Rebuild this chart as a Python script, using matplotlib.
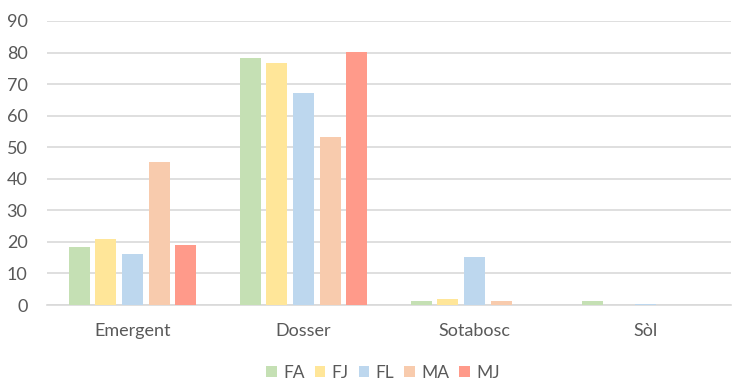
import matplotlib
matplotlib.use("Agg")
import matplotlib.pyplot as plt
import numpy as np

categories = ["Emergent", "Dosser", "Sotabosc", "Sòl"]
series_names = ["FA", "FJ", "FL", "MA", "MJ"]
fa = [18.4, 78.4, 1.2, 1.2]
fj = [20.8, 76.7, 1.9, 0.0]
fl = [16.1, 67.2, 15.3, 0.4]
ma = [45.2, 53.3, 1.2, 0.0]
mj = [19.0, 80.1, 0.0, 0.0]
series_values = [fa, fj, fl, ma, mj]
colors = ["#C5E0B4", "#FFE699", "#BDD7EE", "#F8CBAD", "#FF9A8A"]
y_ticks = list(range(0, 100, 10))

plt.rcParams["font.family"] = ["Lato", "DejaVu Sans"]
fig = plt.figure(figsize=(7.37, 3.81), dpi=100)
ax = fig.add_axes([47 / 737, 1 - 305 / 381, (731 - 47) / 737, (305 - 21) / 381])

x = np.arange(len(categories))
step = 0.156
width = 0.123
for i, (name, vals, c) in enumerate(zip(series_names, series_values, colors)):
    ax.bar(x + (i - 2) * step, vals, width=width, color=c, label=name, zorder=3)

ax.set_xlim(-0.5, len(categories) - 0.5)
ax.set_ylim(0, 90)
ax.set_yticks(y_ticks)
ax.set_xticks(x)
ax.set_xticklabels(categories)
ax.grid(axis="y", color="#D9D9D9", linewidth=1.2, zorder=0)
ax.set_axisbelow(True)
for s in ["top", "right", "left"]:
    ax.spines[s].set_visible(False)
ax.spines["bottom"].set_color("#D9D9D9")
ax.spines["bottom"].set_linewidth(1.2)
ax.tick_params(axis="both", length=0, colors="#595959", labelsize=13)
ax.tick_params(axis="x", pad=13)
ax.tick_params(axis="y", pad=14)

leg = fig.legend(loc="center", bbox_to_anchor=(383 / 737, 1 - 373 / 381), ncol=5,
                 frameon=False, fontsize=12.5, handlelength=0.6, handleheight=0.6,
                 handletextpad=0.35, columnspacing=0.6)
for t in leg.get_texts():
    t.set_color("#595959")

fig.savefig("out.png", dpi=100)
